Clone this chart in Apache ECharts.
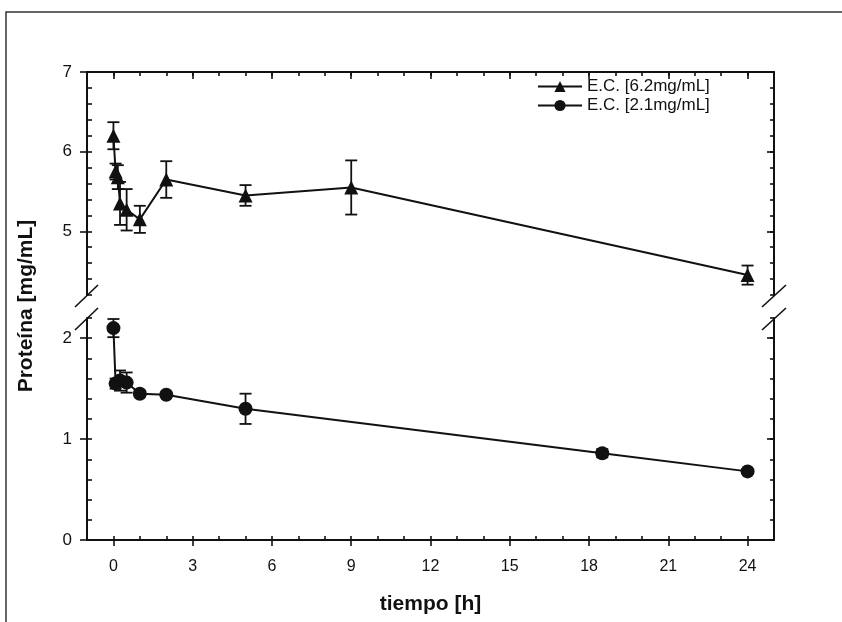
<!DOCTYPE html>
<html>
<head>
<meta charset="utf-8">
<script src="https://cdn.jsdelivr.net/npm/echarts@6/dist/echarts.min.js"></script>
<style>
  html, body { margin: 0; padding: 0; background: #fff; }
  #chart { width: 842px; height: 622px; }
</style>
</head>
<body>
<div id="chart"></div>
<script>
'use strict';
// datos
var tiempoA = [0, 0.083, 0.167, 0.25, 0.5, 1, 2, 5, 9, 24];
var protA = [6.2, 5.75, 5.68, 5.35, 5.27, 5.15, 5.65, 5.45, 5.55, 4.45];
var errA = [0.17, 0.1, 0.15, 0.27, 0.26, 0.17, 0.23, 0.13, 0.34, 0.12];

var tiempoB = [0, 0.083, 0.25, 0.5, 1, 2, 5, 18.5, 24];
var protB = [2.1, 1.55, 1.58, 1.56, 1.45, 1.44, 1.3, 0.86, 0.68];
var errB = [0.09, 0.05, 0.1, 0.1, 0.03, 0.02, 0.15, 0.04, 0.02];

var xTicks = [0, 3, 6, 9, 12, 15, 18, 21, 24];
var yTicksUp = [5, 6, 7];
var yTicksLow = [0, 1, 2];

var nombres = ['E.C. [6.2mg/mL]', 'E.C. [2.1mg/mL]'];

var negro = '#111';
var fuente = 'Liberation Sans, Arial, sans-serif';

function pares(xs, ys) {
    var d = [];
    for (var i = 0; i < xs.length; i++) d.push([xs[i], ys[i]]);
    return d;
}
function barras(xs, ys, es) {
    var d = [];
    for (var i = 0; i < xs.length; i++) d.push([xs[i], ys[i] - es[i], ys[i] + es[i]]);
    return d;
}
function renderError(params, api) {
    var x = api.value(0);
    var lo = api.coord([x, api.value(1)]);
    var hi = api.coord([x, api.value(2)]);
    var w = 6;
    var st = { stroke: negro, lineWidth: 1.8 };
    return {
        type: 'group',
        children: [
            { type: 'line', shape: { x1: lo[0], y1: lo[1], x2: hi[0], y2: hi[1] }, style: st },
            { type: 'line', shape: { x1: lo[0] - w, y1: lo[1], x2: lo[0] + w, y2: lo[1] }, style: st },
            { type: 'line', shape: { x1: hi[0] - w, y1: hi[1], x2: hi[0] + w, y2: hi[1] }, style: st }
        ]
    };
}

var lineaEje = { show: true, onZero: false, lineStyle: { color: negro, width: 2 } };
var sinLinea = { show: false, onZero: false };

function ejeX(grid, pos, opts) {
    var a = {
        type: 'value', gridIndex: grid, position: pos, min: -1, max: 25,
        splitLine: { show: false },
        axisLine: opts.line ? lineaEje : sinLinea,
        axisLabel: { show: false },
        axisTick: { show: true, inside: opts.inside, length: opts.len, lineStyle: { color: negro, width: 1.6 } }
    };
    if (opts.major) {
        a.axisTick.customValues = xTicks;
    } else {
        a.interval = 1;
    }
    if (opts.labels) {
        a.axisLabel = { show: true, customValues: xTicks, margin: 19, color: negro, fontSize: 16, fontFamily: fuente };
        a.name = 'tiempo [h]';
        a.nameLocation = 'middle';
        a.nameGap = 54;
        a.nameTextStyle = { color: negro, fontSize: 21, fontWeight: 'bold', fontFamily: fuente };
    }
    return a;
}

function ejeY(grid, pos, min, max, opts) {
    var a = {
        type: 'value', gridIndex: grid, position: pos, min: min, max: max,
        splitLine: { show: false },
        axisLine: opts.line ? lineaEje : sinLinea,
        axisLabel: { show: false },
        axisTick: { show: true, inside: opts.inside, length: opts.len, lineStyle: { color: negro, width: 1.6 } }
    };
    if (opts.major) {
        a.axisTick.customValues = opts.major;
    } else {
        a.interval = 0.2;
    }
    if (opts.labels) {
        a.axisLabel = { show: true, customValues: opts.labels, margin: 15, color: negro, fontSize: 17, fontFamily: fuente };
    }
    return a;
}

var myChart = echarts.init(document.getElementById('chart'));
var option = {
    backgroundColor: '#fff',
    animation: false,
    grid: [
        { left: 87, right: 68, top: 72, height: 223 },
        { left: 87, right: 68, top: 318, height: 222 }
    ],
    legend: {
        orient: 'vertical',
        left: 532,
        top: 73,
        itemWidth: 44,
        itemHeight: 14,
        itemGap: 2,
        data: nombres,
        textStyle: { color: negro, fontSize: 17, fontFamily: fuente }
    },
    xAxis: [
        ejeX(0, 'top', { line: true, major: true, inside: true, len: 7 }),
        ejeX(0, 'top', { line: false, major: false, inside: true, len: 4 }),
        ejeX(1, 'bottom', { line: true, major: true, inside: false, len: 6, labels: true }),
        ejeX(1, 'bottom', { line: false, major: false, inside: true, len: 4 })
    ],
    yAxis: [
        ejeY(0, 'left', 4.2, 7, { line: true, major: yTicksUp, inside: false, len: 7, labels: yTicksUp }),
        ejeY(0, 'left', 4.2, 7, { line: false, inside: true, len: 5 }),
        ejeY(0, 'right', 4.2, 7, { line: true, major: yTicksUp, inside: true, len: 7 }),
        ejeY(0, 'right', 4.2, 7, { line: false, inside: true, len: 4 }),
        ejeY(1, 'left', 0, 2.2, { line: true, major: yTicksLow, inside: false, len: 7, labels: yTicksLow }),
        ejeY(1, 'left', 0, 2.2, { line: false, inside: true, len: 5 }),
        ejeY(1, 'right', 0, 2.2, { line: true, major: yTicksLow, inside: true, len: 7 }),
        ejeY(1, 'right', 0, 2.2, { line: false, inside: true, len: 4 })
    ],
    series: [
        {
            name: nombres[0],
            type: 'line',
            xAxisIndex: 0,
            yAxisIndex: 0,
            data: pares(tiempoA, protA),
            symbol: 'triangle',
            symbolSize: 14,
            itemStyle: { color: negro },
            lineStyle: { color: negro, width: 2 },
            z: 3
        },
        {
            type: 'custom',
            xAxisIndex: 0,
            yAxisIndex: 0,
            data: barras(tiempoA, protA, errA),
            renderItem: renderError,
            z: 2
        },
        {
            name: nombres[1],
            type: 'line',
            xAxisIndex: 2,
            yAxisIndex: 4,
            data: pares(tiempoB, protB),
            symbol: 'circle',
            symbolSize: 14,
            itemStyle: { color: negro },
            lineStyle: { color: negro, width: 2 },
            z: 3
        },
        {
            type: 'custom',
            xAxisIndex: 2,
            yAxisIndex: 4,
            data: barras(tiempoB, protB, errB),
            renderItem: renderError,
            z: 2
        }
    ],
    graphic: [
        // marco de la figura
        { type: 'rect', shape: { x: 6, y: 12, width: 850, height: 620 }, style: { fill: 'none', stroke: '#333', lineWidth: 1.5 } },
        // marcas de corte del eje
        { type: 'line', shape: { x1: 75, y1: 307, x2: 98, y2: 285 }, style: { stroke: negro, lineWidth: 1.6 } },
        { type: 'line', shape: { x1: 75, y1: 330, x2: 98, y2: 308 }, style: { stroke: negro, lineWidth: 1.6 } },
        { type: 'line', shape: { x1: 762, y1: 307, x2: 786, y2: 285 }, style: { stroke: negro, lineWidth: 1.6 } },
        { type: 'line', shape: { x1: 762, y1: 330, x2: 786, y2: 308 }, style: { stroke: negro, lineWidth: 1.6 } },
        {
            type: 'text',
            x: 26,
            y: 306,
            rotation: Math.PI / 2,
            style: {
                text: 'Proteína [mg/mL]',
                fill: negro,
                font: 'bold 21px ' + fuente,
                align: 'center',
                verticalAlign: 'middle'
            }
        }
    ]
};
myChart.setOption(option);
</script>
</body>
</html>
